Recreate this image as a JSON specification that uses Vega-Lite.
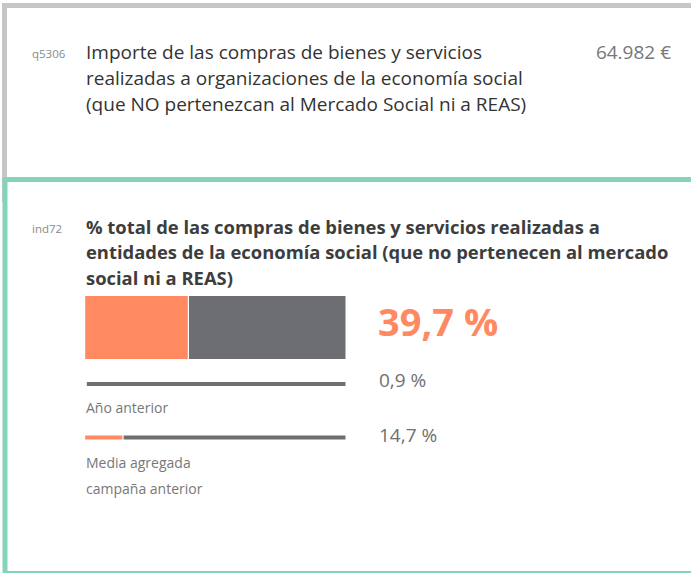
{
  "$schema": "https://vega.github.io/schema/vega-lite/v6.json",
  "width": 691,
  "height": 573,
  "autosize": {"type": "fit", "contains": "padding"},
  "padding": 0,
  "background": "white",
  "config": {"view": {"stroke": null}, "font": "Open Sans"},
  "datasets": {
    "barras": [
      {"serie": "Valor actual", "parte": "valor", "inicio": 0, "fin": 39.7},
      {"serie": "Valor actual", "parte": "resto", "inicio": 39.7, "fin": 100},
      {"serie": "Año anterior", "parte": "valor", "inicio": 0, "fin": 0.9},
      {"serie": "Año anterior", "parte": "resto", "inicio": 0.9, "fin": 100},
      {"serie": "Media agregada campaña anterior", "parte": "valor", "inicio": 0, "fin": 14.7},
      {"serie": "Media agregada campaña anterior", "parte": "resto", "inicio": 14.7, "fin": 100}
    ]
  },
  "layer": [
    {
      "data": {"values": [{}]},
      "mark": {"type": "rect", "fill": null, "stroke": "#c6c6c6", "strokeWidth": 5, "clip": true},
      "encoding": {"x": {"value": 4.5}, "y": {"value": 5.5}, "x2": {"value": 720}, "y2": {"value": 200}}
    },
    {
      "data": {"values": [{}]},
      "mark": {"type": "rect", "fill": "white", "stroke": "#84d4b9", "strokeWidth": 5, "clip": true},
      "encoding": {"x": {"value": 5}, "y": {"value": 179.5}, "x2": {"value": 720}, "y2": {"value": 573.5}}
    },
    {
      "data": {"values": [{"t": "q5306"}]},
      "mark": {"type": "text", "align": "left", "baseline": "alphabetic", "fontSize": 11.5, "color": "#8a8a8a"},
      "encoding": {"text": {"field": "t"}, "x": {"value": 32}, "y": {"value": 58}}
    },
    {
      "data": {"values": [{"t": ["Importe de las compras de bienes y servicios", "realizadas a organizaciones de la economía social", "(que NO pertenezcan al Mercado Social ni a REAS)"]}]},
      "mark": {"type": "text", "align": "left", "baseline": "alphabetic", "fontSize": 19, "lineHeight": 26, "color": "#333333"},
      "encoding": {"text": {"field": "t"}, "x": {"value": 86}, "y": {"value": 58.5}}
    },
    {
      "data": {"values": [{"t": "64.982 €"}]},
      "mark": {"type": "text", "align": "right", "baseline": "alphabetic", "fontSize": 19, "color": "#777777"},
      "encoding": {"text": {"field": "t"}, "x": {"value": 671}, "y": {"value": 58.5}}
    },
    {
      "data": {"values": [{"t": "ind72"}]},
      "mark": {"type": "text", "align": "left", "baseline": "alphabetic", "fontSize": 11.5, "color": "#8a8a8a"},
      "encoding": {"text": {"field": "t"}, "x": {"value": 32}, "y": {"value": 233}}
    },
    {
      "data": {"values": [{"t": ["% total de las compras de bienes y servicios realizadas a", "entidades de la economía social (que no pertenecen al mercado", "social ni a REAS)"]}]},
      "mark": {"type": "text", "align": "left", "baseline": "alphabetic", "fontSize": 18.4, "fontWeight": "bold", "lineHeight": 25.5, "color": "#3d3d3d"},
      "encoding": {"text": {"field": "t"}, "x": {"value": 86}, "y": {"value": 233.5}}
    },
    {
      "data": {"name": "barras"},
      "transform": [{"filter": "datum.serie === 'Valor actual'"}],
      "mark": {"type": "bar"},
      "encoding": {
        "x": {"field": "inicio", "type": "quantitative", "scale": {"domain": [0, 100], "range": [84, 345.5]}, "axis": null},
        "x2": {"field": "fin"},
        "y": {"value": 296},
        "y2": {"value": 359},
        "color": {"field": "parte", "type": "nominal", "scale": {"domain": ["valor", "resto"], "range": ["#ff8a62", "#6d6e72"]}, "legend": null},
        "xOffset": {"condition": {"test": "datum.parte === 'valor'", "value": 2.5}, "value": 1.2},
        "x2Offset": {"condition": {"test": "datum.parte === 'valor'", "value": -1.2}, "value": 0}
      }
    },
    {
      "data": {"name": "barras"},
      "transform": [{"filter": "datum.serie === 'Año anterior'"}],
      "mark": {"type": "bar"},
      "encoding": {
        "x": {"field": "inicio", "type": "quantitative", "scale": {"domain": [0, 100], "range": [84, 345.5]}, "axis": null},
        "x2": {"field": "fin"},
        "y": {"value": 382},
        "y2": {"value": 386},
        "color": {"field": "parte", "type": "nominal", "scale": {"domain": ["valor", "resto"], "range": ["#ff8a62", "#6d6e72"]}, "legend": null},
        "opacity": {"condition": {"test": "datum.parte === 'valor'", "value": 0}, "value": 1},
        "xOffset": {"condition": {"test": "datum.parte === 'valor'", "value": 2.5}, "value": 0.5},
        "x2Offset": {"condition": {"test": "datum.parte === 'valor'", "value": -1.2}, "value": 0}
      }
    },
    {
      "data": {"name": "barras"},
      "transform": [{"filter": "datum.serie === 'Media agregada campaña anterior'"}],
      "mark": {"type": "bar"},
      "encoding": {
        "x": {"field": "inicio", "type": "quantitative", "scale": {"domain": [0, 100], "range": [84, 345.5]}, "axis": null},
        "x2": {"field": "fin"},
        "y": {"value": 435.5},
        "y2": {"value": 439.5},
        "color": {"field": "parte", "type": "nominal", "scale": {"domain": ["valor", "resto"], "range": ["#ff8a62", "#6d6e72"]}, "legend": null},
        "xOffset": {"condition": {"test": "datum.parte === 'valor'", "value": 2.5}, "value": 1.2},
        "x2Offset": {"condition": {"test": "datum.parte === 'valor'", "value": -1.2}, "value": 0}
      }
    },
    {
      "data": {"values": [{"t": "39,7 %"}]},
      "mark": {"type": "text", "align": "left", "baseline": "alphabetic", "fontSize": 38, "fontWeight": "bold", "color": "#ff8a62"},
      "encoding": {"text": {"field": "t"}, "x": {"value": 378}, "y": {"value": 336}}
    },
    {
      "data": {"values": [{"t": "0,9 %"}]},
      "mark": {"type": "text", "align": "left", "baseline": "alphabetic", "fontSize": 19, "color": "#707070"},
      "encoding": {"text": {"field": "t"}, "x": {"value": 379}, "y": {"value": 387}}
    },
    {
      "data": {"values": [{"t": "Año anterior"}]},
      "mark": {"type": "text", "align": "left", "baseline": "alphabetic", "fontSize": 14, "color": "#777777"},
      "encoding": {"text": {"field": "t"}, "x": {"value": 86}, "y": {"value": 413}}
    },
    {
      "data": {"values": [{"t": "14,7 %"}]},
      "mark": {"type": "text", "align": "left", "baseline": "alphabetic", "fontSize": 19, "color": "#707070"},
      "encoding": {"text": {"field": "t"}, "x": {"value": 379}, "y": {"value": 442}}
    },
    {
      "data": {"values": [{"t": ["Media agregada", "campaña anterior"]}]},
      "mark": {"type": "text", "align": "left", "baseline": "alphabetic", "fontSize": 14, "lineHeight": 26, "color": "#777777"},
      "encoding": {"text": {"field": "t"}, "x": {"value": 86}, "y": {"value": 468}}
    }
  ]
}
